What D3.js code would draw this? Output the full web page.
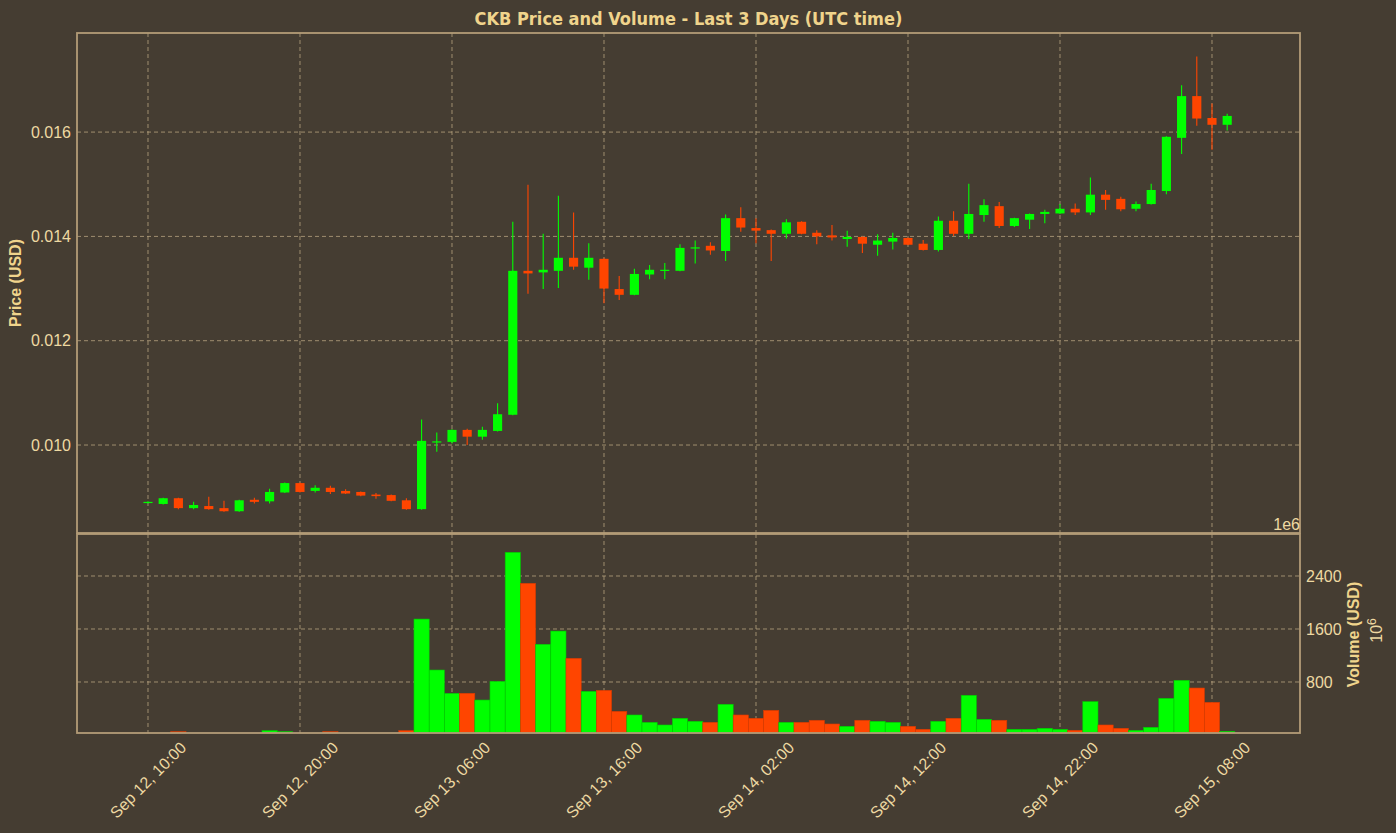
<!DOCTYPE html>
<html>
<head>
<meta charset="utf-8">
<script src="https://cdn.jsdelivr.net/npm/d3@7"></script>
<style>
  html, body { margin: 0; padding: 0; background: #453d32; }
  svg { display: block; }
</style>
</head>
<body>
<svg id="chart" width="1396" height="833"></svg>
<script>
// ---------------- DATA ----------------
const startTime = "2023-09-12T10:00:00Z"; // first hourly candle
const opens = [0.00889,0.00887,0.00898,0.00879,0.00883,0.00879,0.00873,0.00895,0.00892,0.00909,
  0.00927,0.00912,0.00918,0.00912,0.00910,0.00905,0.00904,0.00894,0.00877,0.01006,
  0.01006,0.01029,0.01016,0.01027,0.01058,0.01334,0.01331,0.01334,0.01359,0.01340,
  0.01357,0.01299,0.01288,0.01327,0.01334,0.01334,0.01377,0.01382,0.01372,0.01435,
  0.01416,0.01412,0.01405,0.01428,0.01407,0.01402,0.01395,0.01399,0.01384,0.01390,
  0.01397,0.01386,0.01374,0.01430,0.01405,0.01441,0.01458,0.01420,0.01432,0.01443,
  0.01444,0.01453,0.01446,0.01480,0.01472,0.01453,0.01462,0.01487,0.01589,0.01669,
  0.01627,0.01614];
const highs = [0.00892,0.00899,0.00899,0.00891,0.00901,0.00893,0.00895,0.00899,0.00916,0.00928,
  0.00928,0.00923,0.00922,0.00915,0.00911,0.00908,0.00905,0.00898,0.01049,0.01024,
  0.01030,0.01031,0.01035,0.01080,0.01428,0.01499,0.01405,0.01478,0.01446,0.01387,
  0.01358,0.01324,0.01338,0.01345,0.01349,0.01385,0.01392,0.01389,0.01442,0.01456,
  0.01435,0.01413,0.01433,0.01429,0.01412,0.01422,0.01411,0.01400,0.01404,0.01407,
  0.01398,0.01393,0.01438,0.01448,0.01501,0.01471,0.01466,0.01436,0.01444,0.01451,
  0.01462,0.01463,0.01513,0.01489,0.01476,0.01467,0.01501,0.01592,0.01690,0.01745,
  0.01655,0.01635];
const lows = [0.00888,0.00886,0.00877,0.00877,0.00876,0.00872,0.00872,0.00888,0.00888,0.00908,
  0.00909,0.00909,0.00906,0.00906,0.00902,0.00897,0.00892,0.00876,0.00876,0.00987,
  0.01003,0.01000,0.01010,0.01026,0.01057,0.01290,0.01299,0.01301,0.01336,0.01317,
  0.01272,0.01278,0.01287,0.01318,0.01318,0.01333,0.01348,0.01365,0.01353,0.01409,
  0.01387,0.01353,0.01396,0.01404,0.01385,0.01392,0.01380,0.01368,0.01363,0.01375,
  0.01383,0.01373,0.01371,0.01401,0.01395,0.01428,0.01416,0.01418,0.01414,0.01425,
  0.01443,0.01441,0.01441,0.01451,0.01448,0.01448,0.01461,0.01481,0.01558,0.01612,
  0.01566,0.01603];
const closes = [0.00891,0.00898,0.00879,0.00885,0.00877,0.00873,0.00894,0.00891,0.00910,0.00927,
  0.00910,0.00918,0.00910,0.00907,0.00903,0.00902,0.00893,0.00877,0.01008,0.01007,
  0.01029,0.01016,0.01029,0.01059,0.01334,0.01329,0.01336,0.01359,0.01342,0.01359,
  0.01300,0.01288,0.01328,0.01336,0.01336,0.01378,0.01379,0.01373,0.01435,0.01417,
  0.01411,0.01405,0.01427,0.01405,0.01400,0.01398,0.01399,0.01386,0.01392,0.01397,
  0.01384,0.01374,0.01430,0.01405,0.01443,0.01460,0.01420,0.01435,0.01443,0.01447,
  0.01453,0.01446,0.01480,0.01470,0.01452,0.01462,0.01489,0.01591,0.01669,0.01626,
  0.01614,0.01631];
// volume in millions of USD
const volumes = [12,15,50,12,14,10,18,20,65,50,
  20,15,50,12,10,12,15,65,1750,981,
  629,629,528,810,2757,2289,1369,1569,1157,659,
  674,357,302,191,151,252,207,191,463,302,
  252,372,191,191,222,166,131,222,207,191,
  131,86,207,252,599,237,222,86,86,101,
  86,70,503,151,101,70,116,553,825,709,
  493,55];
const xTickTimes = ["2023-09-12T10:00:00Z","2023-09-12T20:00:00Z","2023-09-13T06:00:00Z","2023-09-13T16:00:00Z",
  "2023-09-14T02:00:00Z","2023-09-14T12:00:00Z","2023-09-14T22:00:00Z","2023-09-15T08:00:00Z"];
const xTickLabels = ["Sep 12, 10:00","Sep 12, 20:00","Sep 13, 06:00","Sep 13, 16:00",
  "Sep 14, 02:00","Sep 14, 12:00","Sep 14, 22:00","Sep 15, 08:00"];
const priceTicks = [0.010, 0.012, 0.014, 0.016];
const priceTickLabels = ["0.010","0.012","0.014","0.016"];
const volumeTicks = [800, 1600, 2400];
const volumeTickLabels = ["800","1600","2400"];

// ---------------- LAYOUT ----------------
const C = {
  bg: "#453d32", text: "#f0d48c", tick: "#eed9a2", spine: "#b39c77", grid: "#cbb68e",
  up: "#00ff00", down: "#ff4500", upEdge: "#00c800", downEdge: "#d83a00"
};
const L = 77, R = 1300, PT = 33, PB = 533, VT = 534, VB = 733;
const HOUR = 3600 * 1000;
const t0 = new Date(startTime).getTime();
const times = opens.map((_, i) => new Date(t0 + i * HOUR));

const svg = d3.select("#chart");
svg.append("rect").attr("width", 1396).attr("height", 833).attr("fill", C.bg);

const x = d3.scaleUtc()
  .domain([new Date(t0 - 4.67 * HOUR), new Date(t0 + 75.79 * HOUR)])
  .range([L, R]);
const yP = d3.scaleLinear().domain([0.008313, 0.0179]).range([PB, PT]);
const yV = d3.scaleLinear().domain([30, 3034]).range([VB, VT]);
const hourPx = x(new Date(t0 + HOUR)) - x(new Date(t0));

const defs = svg.append("defs");
defs.append("clipPath").attr("id", "clipP").append("rect")
  .attr("x", L).attr("y", PT).attr("width", R - L).attr("height", PB - PT);
defs.append("clipPath").attr("id", "clipV").append("rect")
  .attr("x", L).attr("y", VT).attr("width", R - L).attr("height", VB - VT);

const tickDates = xTickTimes.map(d => new Date(d));

// ---------------- GRID ----------------
const grid = svg.append("g").attr("stroke", C.grid).attr("stroke-width", 0.8)
  .attr("stroke-dasharray", "4,3").attr("fill", "none").attr("opacity", 0.85);
tickDates.forEach(d => {
  grid.append("line").attr("x1", x(d)).attr("x2", x(d)).attr("y1", PT).attr("y2", PB);
  grid.append("line").attr("x1", x(d)).attr("x2", x(d)).attr("y1", VT).attr("y2", VB);
});
priceTicks.forEach(v => {
  grid.append("line").attr("x1", L).attr("x2", R).attr("y1", yP(v)).attr("y2", yP(v));
});
volumeTicks.forEach(v => {
  grid.append("line").attr("x1", L).attr("x2", R).attr("y1", yV(v)).attr("y2", yV(v));
});

// ---------------- CANDLES ----------------
const candles = svg.append("g").attr("clip-path", "url(#clipP)");
const bodyW = hourPx * 0.6;
times.forEach((t, i) => {
  const up = closes[i] >= opens[i];
  const col = up ? C.up : C.down;
  const cx = x(t);
  candles.append("line")
    .attr("x1", cx).attr("x2", cx)
    .attr("y1", yP(highs[i])).attr("y2", yP(lows[i]))
    .attr("stroke", col).attr("stroke-width", 1.1);
  const yTop = yP(Math.max(opens[i], closes[i]));
  const yBot = yP(Math.min(opens[i], closes[i]));
  candles.append("rect")
    .attr("x", cx - bodyW / 2).attr("width", bodyW)
    .attr("y", yTop).attr("height", Math.max(1.2, yBot - yTop))
    .attr("fill", col);
});

// ---------------- VOLUME ----------------
const vol = svg.append("g").attr("clip-path", "url(#clipV)");
times.forEach((t, i) => {
  const up = closes[i] >= opens[i];
  const cx = x(t);
  const yTop = yV(volumes[i]);
  vol.append("rect")
    .attr("x", cx - hourPx / 2).attr("width", hourPx)
    .attr("y", yTop).attr("height", yV(0) - yTop)
    .attr("fill", up ? C.up : C.down)
    .attr("stroke", up ? C.upEdge : C.downEdge).attr("stroke-width", 0.6);
});

// ---------------- FRAMES ----------------
const frame = svg.append("g").attr("fill", "none").attr("stroke", C.spine).attr("stroke-width", 1.8);
frame.append("rect").attr("x", L).attr("y", PT).attr("width", R - L).attr("height", PB - PT);
frame.append("rect").attr("x", L).attr("y", PB + 1).attr("width", R - L).attr("height", VB - PB - 1);

// ---------------- AXES TEXT ----------------
const font = "'Liberation Sans', Arial, sans-serif";
const tg = svg.append("g").attr("font-family", font).attr("font-size", 16).attr("fill", C.tick);
priceTicks.forEach((v, i) => {
  tg.append("text").attr("x", L - 6).attr("y", yP(v)).attr("dy", "0.35em")
    .attr("text-anchor", "end").text(priceTickLabels[i]);
});
volumeTicks.forEach((v, i) => {
  tg.append("text").attr("x", R + 6).attr("y", yV(v)).attr("dy", "0.35em")
    .attr("text-anchor", "start").text(volumeTickLabels[i]);
});
tickDates.forEach((d, i) => {
  tg.append("text")
    .attr("transform", `translate(${x(d)},${VB + 47}) rotate(-45)`)
    .attr("text-anchor", "middle").attr("dy", "0.35em")
    .text(xTickLabels[i]);
});
tg.append("text").attr("x", R).attr("y", 530).attr("text-anchor", "end").text("1e6");

// axis labels
svg.append("text")
  .attr("transform", `translate(21,${(PT + PB) / 2}) rotate(-90)`)
  .attr("text-anchor", "middle").attr("font-family", font).attr("font-weight", "bold")
  .attr("font-size", 16).attr("fill", C.text).text("Price (USD)");
svg.append("text")
  .attr("transform", `translate(1359,${(VT + VB) / 2 + 1}) rotate(-90)`)
  .attr("text-anchor", "middle").attr("font-family", font).attr("font-weight", "bold")
  .attr("font-size", 16).attr("fill", C.text).text("Volume (USD)");
const pw = svg.append("text")
  .attr("transform", `translate(1382,${(VT + VB) / 2 - 3}) rotate(-90)`)
  .attr("text-anchor", "middle").attr("font-family", font)
  .attr("font-size", 16).attr("fill", C.tick);
pw.append("tspan").text("10");
pw.append("tspan").attr("dy", "-0.5em").attr("font-size", 12).text("6");

// title
svg.append("text")
  .attr("x", (L + R) / 2).attr("y", 25)
  .attr("text-anchor", "middle")
  .attr("font-family", "'DejaVu Sans Condensed', 'DejaVu Sans', sans-serif")
  .attr("font-stretch", "condensed")
  .attr("font-weight", "bold").attr("font-size", 18).attr("fill", C.text)
  .text("CKB Price and Volume - Last 3 Days (UTC time)");
</script>
</body>
</html>
